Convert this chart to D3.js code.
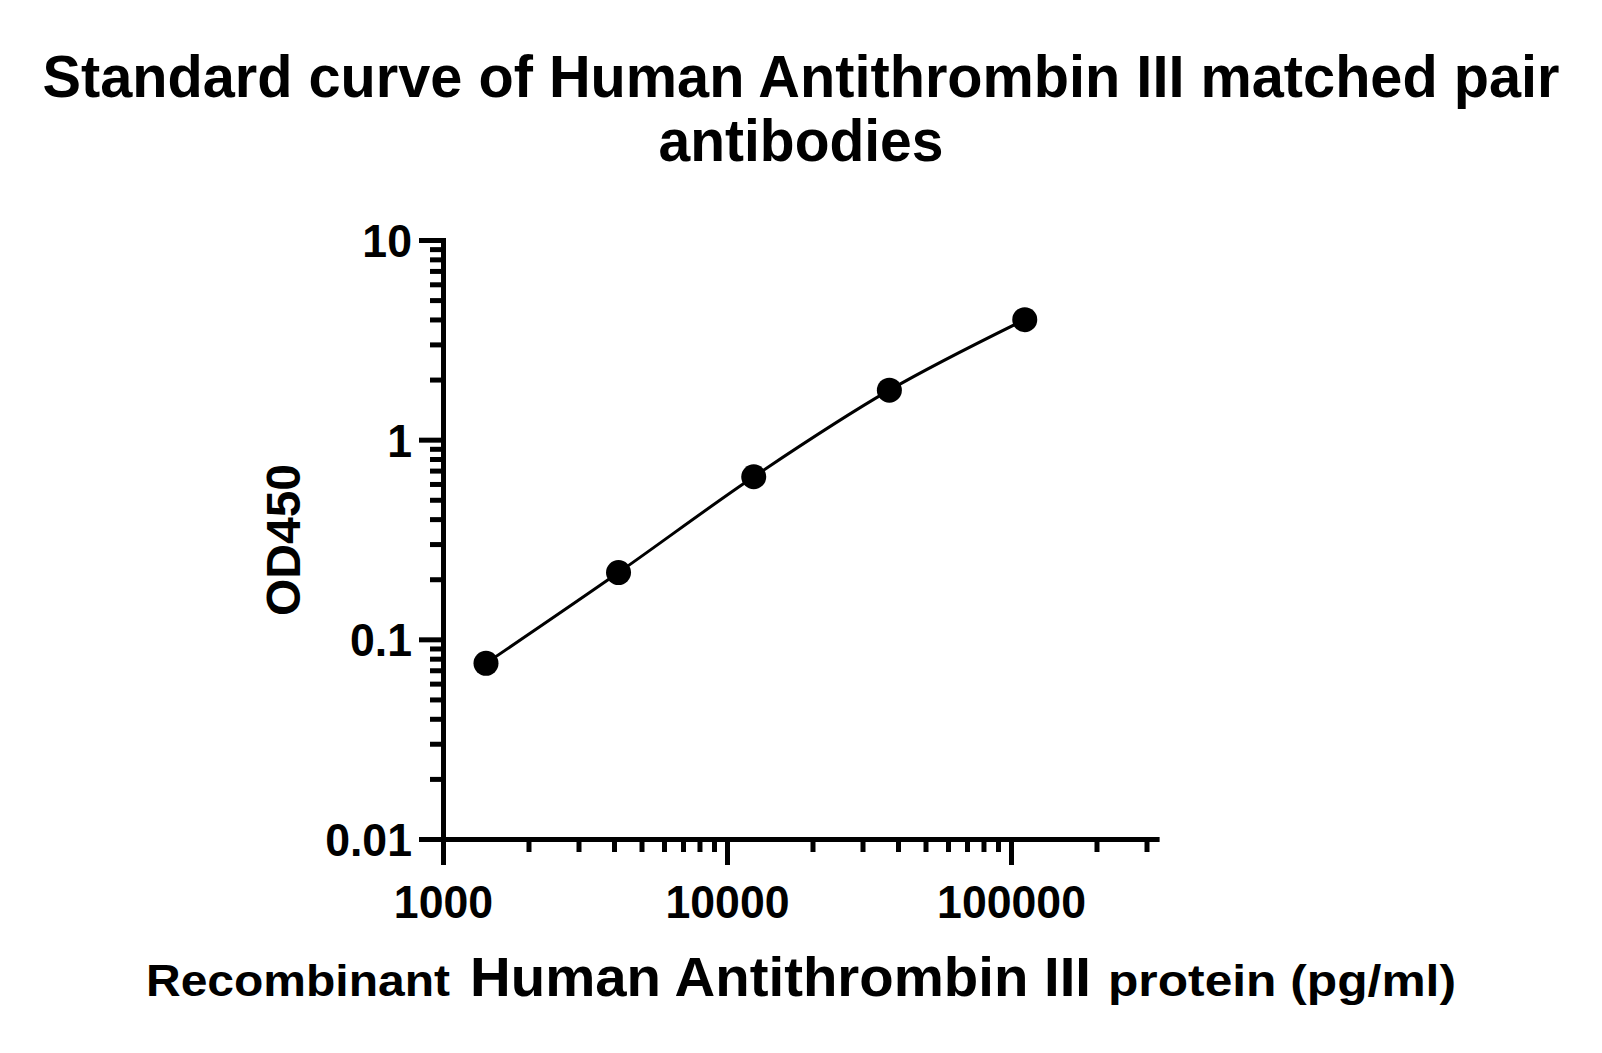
<!DOCTYPE html>
<html>
<head>
<meta charset="utf-8">
<script src="https://cdn.jsdelivr.net/npm/d3@7/dist/d3.min.js"></script>
<style>
  html, body { margin: 0; padding: 0; background: #fff; }
  svg { display: block; }
  text { font-family: "Liberation Sans", Arial, Helvetica, sans-serif; font-weight: bold; fill: #000; }
</style>
</head>
<body>
<svg id="chart" width="1602" height="1053"></svg>
<script>
// ---- data ----
const concentrations = [1417, 4150, 12420, 37300, 111800];   // pg/ml
const od450 = [0.0758, 0.216, 0.652, 1.77, 3.99];
const xTickValues = [1000, 10000, 100000];
const xTickLabels = ["1000", "10000", "100000"];
const xMinorTicks = [2000,3000,4000,5000,6000,7000,8000,9000,
                     20000,30000,40000,50000,60000,70000,80000,90000,
                     200000,300000];
const yTickValues = [0.01, 0.1, 1, 10];
const yTickLabels = ["0.01", "0.1", "1", "10"];
const yMinorTicks = [0.02,0.03,0.04,0.05,0.06,0.07,0.08,0.09,
                     0.2,0.3,0.4,0.5,0.6,0.7,0.8,0.9,
                     2,3,4,5,6,7,8,9];
const titleLines = ["Standard curve of Human Antithrombin III matched pair", "antibodies"];
const yTitle = "OD450";
const xTitleParts = ["Recombinant", "Human Antithrombin III", "protein (pg/ml)"];

(function () {
// ---- layout ----
const svg = d3.select("#chart");
const plotLeft = 443, plotTop = 240, plotBottom = 839;
const decadeX = 284;
const xMax = 325000;

const x = d3.scaleLog().domain([1000, xMax])
  .range([plotLeft, plotLeft + decadeX * Math.log10(xMax / 1000)]);
const y = d3.scaleLog().domain([0.01, 10]).range([plotBottom, plotTop]);

// ---- title ----
const tW = [1517, 285];
const tY = [97, 161];
titleLines.forEach((t, i) => {
  svg.append("text").attr("x", 801).attr("y", tY[i])
    .attr("text-anchor", "middle").attr("font-size", 59)
    .attr("textLength", tW[i]).attr("lengthAdjust", "spacingAndGlyphs")
    .text(t);
});

// ---- axes ----
const gx = svg.append("g").attr("transform", `translate(0,${plotBottom})`);
gx.call(d3.axisBottom(x).tickValues(xMinorTicks).tickSize(13).tickSizeOuter(0).tickFormat(""));
const gx2 = svg.append("g").attr("transform", `translate(0,${plotBottom})`);
gx2.call(d3.axisBottom(x).tickValues(xTickValues).tickSize(26).tickSizeOuter(0)
  .tickPadding(20).tickFormat((d, i) => xTickLabels[i]));

const gy = svg.append("g").attr("transform", `translate(${plotLeft},0)`);
gy.call(d3.axisLeft(y).tickValues(yMinorTicks).tickSize(13).tickSizeOuter(0).tickFormat(""));
const gy2 = svg.append("g").attr("transform", `translate(${plotLeft},0)`);
gy2.call(d3.axisLeft(y).tickValues(yTickValues).tickSize(24).tickSizeOuter(0)
  .tickPadding(7).tickFormat((d, i) => yTickLabels[i]));

svg.selectAll(".domain").attr("stroke", "#000").attr("stroke-width", 5).attr("stroke-linecap", "square");
svg.selectAll(".tick line").attr("stroke", "#000").attr("stroke-width", 5);
svg.selectAll(".tick text").attr("font-size", 46).attr("font-weight", "bold")
  .attr("font-family", '"Liberation Sans", Arial, sans-serif').attr("fill", "#000");
gy2.selectAll(".tick text").attr("dy", "0.36em");
svg.selectAll(".tick text").each(function () {
  const w = this.getComputedTextLength();
  d3.select(this).attr("textLength", w * 0.97).attr("lengthAdjust", "spacingAndGlyphs");
});

// ---- axis titles ----
svg.append("text").attr("transform", "translate(300,540) rotate(-90)")
  .attr("text-anchor", "middle").attr("font-size", 48).text(yTitle);

const xtX = [146, 470, 1108], xtW = [304, 621, 348], xtS = [44, 55, 44];
xTitleParts.forEach((t, i) => {
  svg.append("text").attr("x", xtX[i]).attr("y", 996)
    .attr("font-size", xtS[i])
    .attr("textLength", xtW[i]).attr("lengthAdjust", "spacingAndGlyphs")
    .text(t);
});

// ---- curve and points ----
const pts = concentrations.map((c, i) => [c, od450[i]]);
svg.append("path").datum(pts)
  .attr("fill", "none").attr("stroke", "#000").attr("stroke-width", 3)
  .attr("d", d3.line().x(d => x(d[0])).y(d => y(d[1])).curve(d3.curveCatmullRom.alpha(0.5)));

svg.selectAll("circle.pt").data(pts).enter().append("circle")
  .attr("class", "pt")
  .attr("cx", d => x(d[0])).attr("cy", d => y(d[1])).attr("r", 12.5)
  .attr("fill", "#000");
})();
</script>
</body>
</html>
